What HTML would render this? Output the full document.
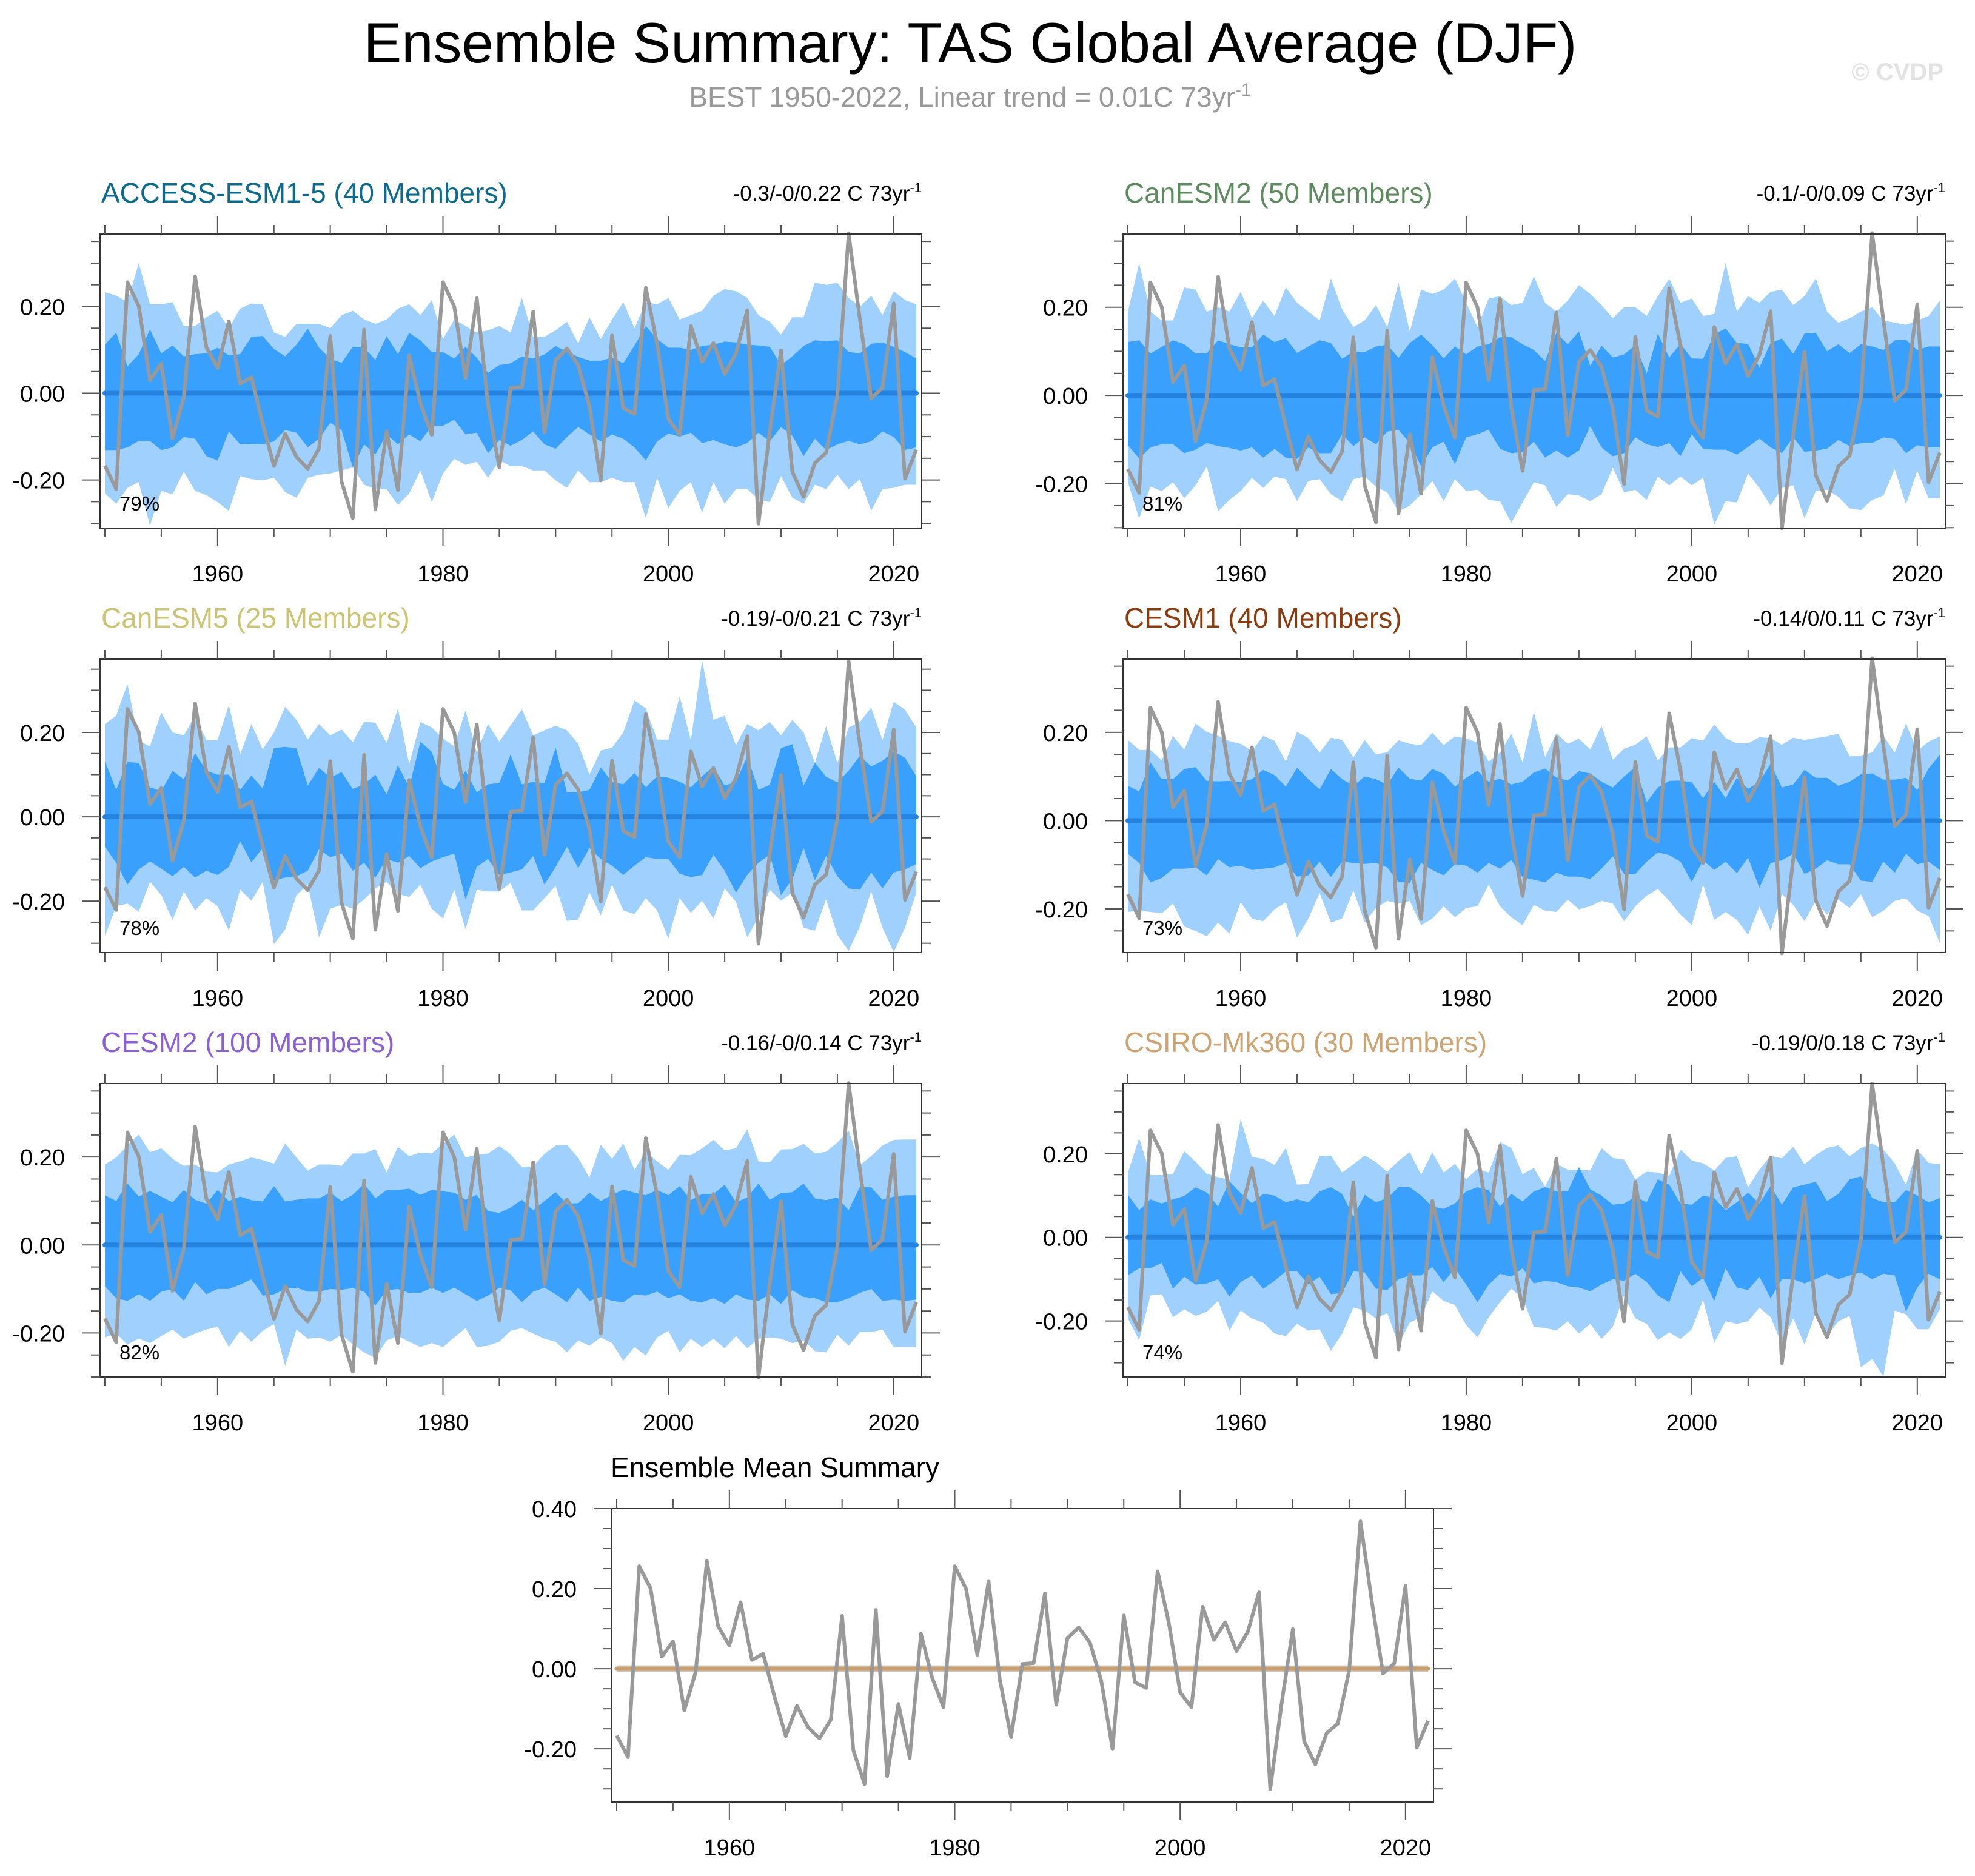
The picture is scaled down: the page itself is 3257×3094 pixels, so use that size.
<!DOCTYPE html>
<html><head><meta charset="utf-8"><title>Ensemble Summary: TAS Global Average (DJF)</title>
<style>html,body{margin:0;padding:0;background:#fff}svg{display:block}text{font-family:"Liberation Sans",Arial,sans-serif}</style>
</head><body>
<svg id="chart" xmlns="http://www.w3.org/2000/svg" width="3257" height="3094" viewBox="0 0 3257 3094">
<rect width="3257" height="3094" fill="#fff"/>
<text x="1600" y="103" font-size="94" text-anchor="middle" fill="#000">Ensemble Summary: TAS Global Average (DJF)</text>
<text x="1600" y="176" font-size="46" text-anchor="middle" fill="#999">BEST 1950-2022, Linear trend = 0.01C 73yr<tspan font-size="30" dy="-18">-1</tspan></text>
<text x="3205" y="132" font-size="40" font-weight="bold" text-anchor="end" fill="#e2e2e2">© CVDP</text>
<g id="panels"></g>
</svg>
<script>
const years = [];
for (let y = 1950; y <= 2022; y++) years.push(y);
const obs = [-0.167,-0.221,0.256,0.201,0.030,0.068,-0.104,-0.009,0.269,0.106,0.058,0.166,0.022,0.037,-0.07,-0.168,-0.093,-0.147,-0.174,-0.127,0.132,-0.204,-0.288,0.147,-0.268,-0.088,-0.223,0.087,-0.023,-0.096,0.256,0.200,0.035,0.219,-0.027,-0.171,0.012,0.014,0.188,-0.090,0.076,0.103,0.065,-0.030,-0.201,0.133,-0.034,-0.048,0.243,0.114,-0.059,-0.096,0.155,0.072,0.116,0.044,0.092,0.191,-0.301,-0.088,0.099,-0.181,-0.239,-0.161,-0.137,-0.005,0.368,0.17,-0.012,0.013,0.207,-0.197,-0.130];
const ensMean = [0,0,0,0,0,0,0,0,0,0,0,0,0,0,0,0,0,0,0,0,0,0,0,0,0,0,0,0,0,0,0,0,0,0,0,0,0,0,0,0,0,0,0,0,0,0,0,0,0,0,0,0,0,0,0,0,0,0,0,0,0,0,0,0,0,0,0,0,0,0,0,0,0];
const xTickLabels = [1960, 1980, 2000, 2020];
const yTickLabels = [-0.2, 0.0, 0.2];
const yTickLabelsMean = [-0.2, 0.0, 0.2, 0.4];

const p1Hi2 = [0.233,0.225,0.21,0.30,0.205,0.205,0.21,0.155,0.155,0.175,0.19,0.15,0.195,0.207,0.205,0.14,0.13,0.16,0.16,0.16,0.15,0.18,0.19,0.17,0.16,0.17,0.195,0.205,0.18,0.215,0.125,0.17,0.155,0.14,0.145,0.155,0.14,0.22,0.13,0.13,0.145,0.165,0.115,0.175,0.125,0.17,0.21,0.15,0.21,0.205,0.22,0.17,0.18,0.19,0.225,0.24,0.235,0.22,0.18,0.165,0.135,0.175,0.175,0.255,0.25,0.255,0.22,0.2,0.225,0.18,0.235,0.215,0.205];
const p1Hi1 = [0.112,0.14,0.062,0.09,0.147,0.092,0.11,0.085,0.09,0.092,0.105,0.087,0.09,0.13,0.132,0.102,0.085,0.112,0.149,0.105,0.079,0.07,0.107,0.105,0.077,0.132,0.09,0.139,0.122,0.095,0.095,0.08,0.107,0.082,0.047,0.065,0.069,0.085,0.08,0.089,0.109,0.095,0.084,0.075,0.075,0.082,0.069,0.11,0.155,0.125,0.105,0.105,0.1,0.109,0.112,0.119,0.117,0.112,0.11,0.107,0.065,0.085,0.109,0.122,0.12,0.122,0.095,0.092,0.114,0.117,0.107,0.095,0.08];
const p1Lo1 = [-0.131,-0.131,-0.125,-0.11,-0.11,-0.131,-0.125,-0.101,-0.105,-0.145,-0.155,-0.088,-0.118,-0.117,-0.118,-0.111,-0.085,-0.091,-0.125,-0.105,-0.068,-0.085,-0.171,-0.118,-0.141,-0.095,-0.118,-0.095,-0.111,-0.075,-0.075,-0.061,-0.095,-0.091,-0.138,-0.108,-0.121,-0.108,-0.088,-0.118,-0.128,-0.101,-0.078,-0.095,-0.111,-0.095,-0.105,-0.125,-0.155,-0.111,-0.093,-0.1,-0.091,-0.115,-0.108,-0.118,-0.125,-0.115,-0.091,-0.111,-0.078,-0.098,-0.145,-0.105,-0.131,-0.118,-0.11,-0.118,-0.111,-0.088,-0.101,-0.131,-0.125];
const p1Lo2 = [-0.231,-0.255,-0.218,-0.205,-0.305,-0.225,-0.233,-0.181,-0.225,-0.235,-0.251,-0.271,-0.191,-0.198,-0.201,-0.195,-0.228,-0.241,-0.195,-0.188,-0.185,-0.178,-0.171,-0.211,-0.221,-0.221,-0.258,-0.231,-0.178,-0.251,-0.185,-0.151,-0.165,-0.158,-0.195,-0.155,-0.168,-0.168,-0.178,-0.178,-0.201,-0.218,-0.178,-0.205,-0.205,-0.195,-0.205,-0.205,-0.288,-0.195,-0.265,-0.225,-0.205,-0.275,-0.205,-0.255,-0.221,-0.221,-0.245,-0.251,-0.191,-0.241,-0.255,-0.211,-0.221,-0.188,-0.221,-0.198,-0.271,-0.221,-0.218,-0.211,-0.211];

const p2Hi2 = [0.19,0.30,0.19,0.17,0.17,0.245,0.24,0.19,0.20,0.19,0.235,0.175,0.215,0.18,0.245,0.21,0.19,0.17,0.265,0.195,0.155,0.17,0.205,0.155,0.255,0.145,0.24,0.23,0.24,0.265,0.21,0.155,0.22,0.225,0.205,0.21,0.27,0.21,0.19,0.215,0.25,0.23,0.205,0.175,0.2,0.2,0.18,0.225,0.265,0.21,0.22,0.18,0.185,0.30,0.19,0.225,0.21,0.235,0.24,0.205,0.225,0.265,0.19,0.165,0.175,0.19,0.2,0.17,0.165,0.16,0.17,0.18,0.215];
const p2Hi1 = [0.121,0.125,0.095,0.11,0.125,0.116,0.095,0.096,0.125,0.116,0.109,0.109,0.138,0.121,0.13,0.096,0.111,0.125,0.119,0.083,0.1,0.098,0.111,0.115,0.085,0.119,0.138,0.114,0.084,0.111,0.093,0.111,0.116,0.132,0.132,0.116,0.103,0.078,0.142,0.116,0.145,0.067,0.113,0.086,0.093,0.114,0.05,0.14,0.086,0.117,0.084,0.083,0.139,0.152,0.119,0.117,0.063,0.119,0.129,0.094,0.14,0.142,0.1,0.116,0.096,0.116,0.111,0.103,0.125,0.126,0.103,0.111,0.111];
const p2Lo1 = [-0.113,-0.143,-0.118,-0.111,-0.111,-0.131,-0.123,-0.108,-0.115,-0.119,-0.125,-0.118,-0.141,-0.121,-0.141,-0.144,-0.118,-0.131,-0.131,-0.088,-0.115,-0.095,-0.111,-0.082,-0.078,-0.108,-0.161,-0.118,-0.105,-0.156,-0.095,-0.088,-0.078,-0.121,-0.131,-0.128,-0.105,-0.141,-0.125,-0.141,-0.125,-0.07,-0.118,-0.138,-0.131,-0.095,-0.111,-0.117,-0.108,-0.138,-0.088,-0.121,-0.123,-0.123,-0.134,-0.117,-0.098,-0.118,-0.131,-0.095,-0.128,-0.125,-0.121,-0.101,-0.115,-0.108,-0.108,-0.095,-0.099,-0.131,-0.113,-0.118,-0.118];
const p2Lo2 = [-0.197,-0.279,-0.207,-0.217,-0.197,-0.233,-0.204,-0.161,-0.263,-0.237,-0.217,-0.187,-0.21,-0.184,-0.19,-0.24,-0.194,-0.19,-0.224,-0.24,-0.19,-0.184,-0.207,-0.22,-0.263,-0.25,-0.224,-0.194,-0.24,-0.19,-0.217,-0.214,-0.237,-0.24,-0.289,-0.243,-0.197,-0.204,-0.253,-0.224,-0.227,-0.24,-0.224,-0.164,-0.22,-0.214,-0.237,-0.184,-0.204,-0.184,-0.204,-0.187,-0.293,-0.24,-0.243,-0.177,-0.21,-0.25,-0.21,-0.204,-0.279,-0.217,-0.214,-0.23,-0.256,-0.26,-0.237,-0.227,-0.167,-0.247,-0.171,-0.233,-0.233];

const p3Hi2 = [0.22,0.24,0.315,0.18,0.167,0.247,0.2,0.193,0.24,0.182,0.182,0.265,0.148,0.22,0.16,0.2,0.261,0.23,0.183,0.22,0.193,0.207,0.177,0.226,0.223,0.175,0.257,0.125,0.225,0.212,0.186,0.167,0.252,0.152,0.22,0.178,0.217,0.255,0.193,0.205,0.216,0.205,0.173,0.1,0.157,0.164,0.2,0.276,0.257,0.183,0.183,0.286,0.181,0.371,0.23,0.24,0.17,0.22,0.205,0.225,0.193,0.23,0.2,0.128,0.215,0.128,0.212,0.225,0.259,0.182,0.273,0.254,0.212];
const p3Hi1 = [0.132,0.064,0.13,0.128,0.07,0.061,0.109,0.089,0.151,0.109,0.1,0.1,0.064,0.098,0.067,0.163,0.166,0.162,0.074,0.116,0.093,0.106,0.066,0.077,0.1,0.053,0.122,0.07,0.178,0.154,0.078,0.064,0.109,0.058,0.077,0.08,0.148,0.077,0.083,0.08,0.164,0.058,0.058,0.064,0.117,0.083,0.077,0.104,0.07,0.096,0.093,0.083,0.07,0.096,0.119,0.074,0.083,0.143,0.064,0.076,0.163,0.172,0.074,0.128,0.095,0.082,0.109,0.145,0.119,0.133,0.155,0.14,0.096];
const p3Lo1 = [-0.071,-0.109,-0.161,-0.125,-0.106,-0.123,-0.141,-0.119,-0.144,-0.128,-0.138,-0.119,-0.058,-0.108,-0.074,-0.151,-0.144,-0.141,-0.128,-0.077,-0.096,-0.087,-0.128,-0.109,-0.144,-0.1,-0.109,-0.093,-0.122,-0.106,-0.096,-0.087,-0.196,-0.119,-0.1,-0.138,-0.132,-0.125,-0.093,-0.161,-0.119,-0.071,-0.122,-0.074,-0.1,-0.116,-0.138,-0.116,-0.096,-0.1,-0.1,-0.135,-0.143,-0.138,-0.09,-0.128,-0.18,-0.138,-0.109,-0.09,-0.186,-0.148,-0.074,-0.151,-0.093,-0.141,-0.17,-0.173,-0.132,-0.17,-0.132,-0.125,-0.112];
const p3Lo2 = [-0.283,-0.212,-0.206,-0.225,-0.154,-0.186,-0.244,-0.177,-0.222,-0.193,-0.212,-0.27,-0.173,-0.199,-0.154,-0.302,-0.267,-0.186,-0.161,-0.286,-0.218,-0.209,-0.218,-0.196,-0.17,-0.154,-0.183,-0.19,-0.161,-0.218,-0.241,-0.173,-0.267,-0.173,-0.177,-0.177,-0.157,-0.222,-0.222,-0.193,-0.164,-0.247,-0.244,-0.18,-0.234,-0.161,-0.222,-0.231,-0.193,-0.222,-0.289,-0.193,-0.228,-0.199,-0.241,-0.17,-0.202,-0.286,-0.238,-0.173,-0.199,-0.18,-0.263,-0.27,-0.196,-0.28,-0.318,-0.26,-0.177,-0.263,-0.321,-0.263,-0.18];

const p4Hi2 = [0.183,0.16,0.16,0.137,0.192,0.161,0.22,0.201,0.192,0.18,0.174,0.158,0.192,0.181,0.134,0.201,0.187,0.154,0.188,0.183,0.143,0.183,0.15,0.155,0.182,0.174,0.171,0.199,0.171,0.191,0.186,0.177,0.134,0.154,0.197,0.132,0.247,0.144,0.198,0.174,0.186,0.161,0.215,0.138,0.163,0.172,0.191,0.136,0.166,0.166,0.187,0.181,0.218,0.187,0.175,0.175,0.189,0.187,0.172,0.188,0.183,0.187,0.191,0.197,0.146,0.146,0.155,0.192,0.154,0.22,0.158,0.179,0.191];
const p4Hi1 = [0.079,0.066,0.132,0.094,0.094,0.117,0.121,0.09,0.089,0.09,0.087,0.094,0.115,0.103,0.077,0.12,0.094,0.071,0.117,0.094,0.079,0.1,0.094,0.082,0.12,0.095,0.091,0.117,0.106,0.077,0.097,0.113,0.088,0.095,0.082,0.088,0.109,0.118,0.098,0.091,0.112,0.107,0.088,0.075,0.1,0.121,0.042,0.075,0.09,0.091,0.087,0.051,0.088,0.051,0.097,0.072,0.088,0.129,0.075,0.082,0.115,0.097,0.097,0.079,0.088,0.105,0.107,0.093,0.093,0.097,0.069,0.118,0.149];
const p4Lo1 = [-0.075,-0.096,-0.14,-0.13,-0.109,-0.109,-0.106,-0.124,-0.087,-0.106,-0.102,-0.112,-0.109,-0.106,-0.096,-0.127,-0.124,-0.093,-0.128,-0.093,-0.096,-0.098,-0.096,-0.106,-0.139,-0.141,-0.096,-0.112,-0.124,-0.099,-0.102,-0.118,-0.096,-0.109,-0.089,-0.128,-0.134,-0.14,-0.118,-0.127,-0.127,-0.132,-0.109,-0.081,-0.121,-0.121,-0.093,-0.072,-0.078,-0.093,-0.139,-0.09,-0.112,-0.093,-0.119,-0.084,-0.152,-0.096,-0.09,-0.075,-0.121,-0.109,-0.09,-0.099,-0.099,-0.136,-0.139,-0.093,-0.118,-0.075,-0.099,-0.093,-0.112];
const p4Lo2 = [-0.207,-0.204,-0.207,-0.21,-0.188,-0.24,-0.25,-0.262,-0.231,-0.256,-0.185,-0.222,-0.228,-0.201,-0.185,-0.265,-0.222,-0.164,-0.231,-0.222,-0.158,-0.231,-0.198,-0.182,-0.188,-0.182,-0.237,-0.222,-0.194,-0.219,-0.198,-0.194,-0.145,-0.194,-0.219,-0.237,-0.191,-0.204,-0.207,-0.179,-0.201,-0.194,-0.182,-0.188,-0.228,-0.194,-0.17,-0.155,-0.182,-0.213,-0.237,-0.145,-0.225,-0.207,-0.225,-0.259,-0.194,-0.25,-0.167,-0.191,-0.228,-0.182,-0.213,-0.179,-0.198,-0.167,-0.219,-0.204,-0.182,-0.176,-0.204,-0.216,-0.277];

const p5Hi2 = [0.183,0.199,0.226,0.251,0.211,0.22,0.196,0.18,0.183,0.167,0.165,0.183,0.19,0.199,0.193,0.185,0.231,0.199,0.169,0.183,0.183,0.18,0.208,0.208,0.218,0.165,0.223,0.202,0.21,0.208,0.23,0.251,0.199,0.205,0.208,0.225,0.206,0.177,0.179,0.207,0.226,0.228,0.198,0.153,0.228,0.196,0.231,0.171,0.212,0.19,0.171,0.205,0.204,0.22,0.239,0.215,0.22,0.263,0.19,0.188,0.217,0.218,0.23,0.208,0.212,0.233,0.26,0.182,0.202,0.226,0.239,0.24,0.24];
const p5Hi1 = [0.113,0.1,0.14,0.11,0.123,0.11,0.097,0.125,0.103,0.094,0.125,0.1,0.11,0.102,0.099,0.134,0.099,0.103,0.106,0.106,0.119,0.1,0.114,0.139,0.106,0.125,0.125,0.128,0.114,0.125,0.122,0.119,0.103,0.114,0.077,0.073,0.085,0.103,0.079,0.1,0.12,0.094,0.095,0.119,0.1,0.114,0.126,0.119,0.113,0.125,0.113,0.134,0.102,0.116,0.116,0.137,0.097,0.108,0.14,0.103,0.118,0.12,0.14,0.106,0.102,0.108,0.079,0.132,0.131,0.103,0.11,0.113,0.113];
const p5Lo1 = [-0.094,-0.121,-0.127,-0.112,-0.127,-0.106,-0.1,-0.127,-0.084,-0.112,-0.1,-0.1,-0.09,-0.078,-0.115,-0.112,-0.1,-0.097,-0.106,-0.106,-0.1,-0.102,-0.098,-0.106,-0.137,-0.103,-0.1,-0.109,-0.109,-0.097,-0.109,-0.097,-0.112,-0.127,-0.115,-0.097,-0.103,-0.13,-0.106,-0.097,-0.112,-0.13,-0.097,-0.127,-0.118,-0.127,-0.13,-0.112,-0.115,-0.106,-0.121,-0.112,-0.127,-0.13,-0.121,-0.134,-0.112,-0.124,-0.127,-0.112,-0.134,-0.103,-0.118,-0.121,-0.13,-0.13,-0.121,-0.109,-0.1,-0.127,-0.124,-0.127,-0.124];
const p5Lo2 = [-0.21,-0.201,-0.226,-0.213,-0.223,-0.207,-0.192,-0.213,-0.201,-0.192,-0.186,-0.232,-0.195,-0.22,-0.195,-0.18,-0.275,-0.192,-0.213,-0.21,-0.22,-0.204,-0.226,-0.244,-0.257,-0.217,-0.207,-0.22,-0.232,-0.223,-0.232,-0.21,-0.189,-0.232,-0.229,-0.22,-0.195,-0.189,-0.201,-0.213,-0.22,-0.244,-0.217,-0.229,-0.21,-0.223,-0.263,-0.232,-0.251,-0.21,-0.195,-0.244,-0.213,-0.232,-0.213,-0.235,-0.207,-0.235,-0.213,-0.21,-0.213,-0.223,-0.217,-0.241,-0.244,-0.204,-0.229,-0.198,-0.198,-0.192,-0.232,-0.232,-0.232];

const p6Hi2 = [0.155,0.238,0.149,0.149,0.152,0.206,0.181,0.152,0.144,0.138,0.283,0.192,0.188,0.173,0.214,0.126,0.128,0.194,0.196,0.155,0.175,0.196,0.18,0.157,0.183,0.204,0.15,0.203,0.155,0.176,0.139,0.164,0.155,0.228,0.214,0.151,0.166,0.121,0.176,0.162,0.162,0.16,0.214,0.19,0.186,0.139,0.157,0.155,0.147,0.21,0.184,0.177,0.16,0.19,0.194,0.12,0.162,0.195,0.189,0.217,0.175,0.197,0.214,0.22,0.194,0.214,0.225,0.21,0.177,0.126,0.21,0.178,0.175];
const p6Hi1 = [0.102,0.065,0.091,0.081,0.091,0.099,0.12,0.107,0.074,0.134,0.106,0.082,0.104,0.1,0.084,0.091,0.084,0.11,0.12,0.104,0.049,0.102,0.084,0.094,0.12,0.12,0.1,0.074,0.068,0.081,0.11,0.12,0.113,0.074,0.104,0.086,0.11,0.12,0.11,0.11,0.168,0.115,0.1,0.078,0.081,0.097,0.084,0.139,0.126,0.081,0.078,0.1,0.094,0.065,0.084,0.107,0.081,0.123,0.078,0.12,0.126,0.133,0.087,0.104,0.139,0.146,0.094,0.084,0.084,0.113,0.1,0.084,0.094];
const p6Lo1 = [-0.091,-0.074,-0.074,-0.061,-0.123,-0.094,-0.113,-0.11,-0.1,-0.142,-0.107,-0.091,-0.123,-0.104,-0.081,-0.081,-0.113,-0.094,-0.136,-0.133,-0.081,-0.084,-0.123,-0.126,-0.1,-0.091,-0.091,-0.071,-0.107,-0.074,-0.113,-0.155,-0.113,-0.087,-0.094,-0.074,-0.11,-0.104,-0.107,-0.117,-0.12,-0.129,-0.113,-0.1,-0.104,-0.087,-0.107,-0.139,-0.155,-0.081,-0.117,-0.097,-0.152,-0.074,-0.12,-0.126,-0.094,-0.146,-0.1,-0.1,-0.11,-0.1,-0.087,-0.1,-0.091,-0.084,-0.1,-0.087,-0.091,-0.178,-0.12,-0.087,-0.1];
const p6Lo2 = [-0.194,-0.246,-0.139,-0.136,-0.191,-0.172,-0.188,-0.178,-0.152,-0.223,-0.175,-0.194,-0.204,-0.23,-0.236,-0.207,-0.223,-0.22,-0.272,-0.23,-0.168,-0.175,-0.194,-0.181,-0.256,-0.204,-0.191,-0.129,-0.152,-0.162,-0.21,-0.239,-0.191,-0.155,-0.123,-0.146,-0.214,-0.217,-0.223,-0.201,-0.23,-0.207,-0.243,-0.214,-0.139,-0.194,-0.207,-0.246,-0.227,-0.243,-0.22,-0.149,-0.252,-0.201,-0.207,-0.201,-0.168,-0.191,-0.256,-0.194,-0.256,-0.181,-0.236,-0.201,-0.188,-0.311,-0.291,-0.333,-0.175,-0.184,-0.22,-0.22,-0.172];

const NS = 'http://www.w3.org/2000/svg';
const root = document.getElementById('panels');
function mk(tag, attrs, parent) {
  const e = document.createElementNS(NS, tag);
  for (const k in attrs) e.setAttribute(k, attrs[k]);
  (parent || root).appendChild(e);
  return e;
}
const panels = [
  {id:'access-esm1-5', title:'ACCESS-ESM1-5 (40 Members)', color:'#0d6a8c', trend:'-0.3/-0/0.22 C 73yr', pct:'79%', x0:165, x1:1520, y0:386, y1:871, ymin:-0.311, ymax:0.367, hi2:p1Hi2, hi1:p1Hi1, lo1:p1Lo1, lo2:p1Lo2},
  {id:'canesm2', title:'CanESM2 (50 Members)', color:'#5e8a60', trend:'-0.1/-0/0.09 C 73yr', pct:'81%', x0:1852, x1:3208, y0:386, y1:871, ymin:-0.301, ymax:0.366, hi2:p2Hi2, hi1:p2Hi1, lo1:p2Lo1, lo2:p2Lo2},
  {id:'canesm5', title:'CanESM5 (25 Members)', color:'#cbc474', trend:'-0.19/-0/0.21 C 73yr', pct:'78%', x0:165, x1:1520, y0:1087, y1:1571, ymin:-0.322, ymax:0.374, hi2:p3Hi2, hi1:p3Hi1, lo1:p3Lo1, lo2:p3Lo2},
  {id:'cesm1', title:'CESM1 (40 Members)', color:'#8b3c0e', trend:'-0.14/0/0.11 C 73yr', pct:'73%', x0:1852, x1:3208, y0:1087, y1:1571, ymin:-0.299, ymax:0.366, hi2:p4Hi2, hi1:p4Hi1, lo1:p4Lo1, lo2:p4Lo2},
  {id:'cesm2', title:'CESM2 (100 Members)', color:'#8a60d2', trend:'-0.16/-0/0.14 C 73yr', pct:'82%', x0:165, x1:1520, y0:1787, y1:2271, ymin:-0.300, ymax:0.367, hi2:p5Hi2, hi1:p5Hi1, lo1:p5Lo1, lo2:p5Lo2},
  {id:'csiro-mk360', title:'CSIRO-Mk360 (30 Members)', color:'#cca474', trend:'-0.19/0/0.18 C 73yr', pct:'74%', x0:1852, x1:3208, y0:1787, y1:2271, ymin:-0.334, ymax:0.368, hi2:p6Hi2, hi1:p6Hi1, lo1:p6Lo1, lo2:p6Lo2},
  {id:'ensemble-mean', title:'Ensemble Mean Summary', color:'#000', trend:null, pct:null, x0:1009, x1:2364, y0:2488, y1:2972, ymin:-0.333, ymax:0.40, mean:true}
];

function axes(p) {
  const X = yr => p.x0 + 8 + (yr - 1950) * (p.x1 - p.x0 - 17) / 72;
  const Y = v => p.y0 + (p.ymax - v) * (p.y1 - p.y0) / (p.ymax - p.ymin);
  return {X, Y};
}

panels.forEach((p, idx) => {
  const g = mk('g', {});
  
  
  const {X, Y} = axes(p);
  const clipId = 'clip' + idx;
  const cp = mk('clipPath', {id: clipId}, g);
  mk('rect', {x:p.x0, y:p.y0, width:p.x1-p.x0, height:p.y1-p.y0}, cp);
  const plot = mk('g', {'clip-path':'url(#'+clipId+')'}, g);
  if (!p.mean) {
    const band = (top, bot) => {
      let d = 'M' + years.map((yr,i) => X(yr).toFixed(1)+','+Y(top[i]).toFixed(1)).join('L');
      for (let i = years.length - 1; i >= 0; i--) d += 'L' + X(years[i]).toFixed(1) + ',' + Y(bot[i]).toFixed(1);
      return d + 'Z';
    };
    const outer = mk('path', {d: band(p.hi2, p.lo2), fill:'#a0d0fd'}, plot);
    
    
    const inner = mk('path', {d: band(p.hi1, p.lo1), fill:'#3aa0fe'}, plot);
    
    
  }
  const meanD = 'M' + years.map((yr,i) => X(yr).toFixed(1)+','+Y(ensMean[i]).toFixed(1)).join('L');
  if (p.mean) {
    mk('path', {d: meanD, fill:'none', stroke:'#c8c8c8', 'stroke-width':11}, plot);
  }
  const ml = mk('path', {d: meanD, fill:'none', stroke: p.mean ? '#c89e6e' : '#2583df', 'stroke-width': p.mean ? 7 : 8, 'stroke-linecap':'round'}, plot);
  
  
  const ol = mk('path', {d: 'M' + years.map((yr,i) => X(yr).toFixed(1)+','+Y(obs[i]).toFixed(1)).join('L'), fill:'none', stroke:'#999', 'stroke-width':6, 'stroke-linejoin':'round'}, g);
  
  
  const fr = mk('rect', {x:p.x0, y:p.y0, width:p.x1-p.x0, height:p.y1-p.y0, fill:'none', stroke:'#333', 'stroke-width':2}, g);
  
  
  for (let yr = 1950; yr <= 2022; yr += 5) {
    const major = (yr % 20 === 0);
    const L = major ? 30 : 15;
    const x = X(yr);
    mk('line', {x1:x, x2:x, y1:p.y0, y2:p.y0 - L, stroke:'#555', 'stroke-width':2}, g);
    mk('line', {x1:x, x2:x, y1:p.y1, y2:p.y1 + L, stroke:'#555', 'stroke-width':2}, g);
  }
  xTickLabels.forEach(yr => {
    const t = mk('text', {x:X(yr), y:p.y1 + 88, 'font-size':38, 'text-anchor':'middle', fill:'#000'}, g);
    
    
    t.textContent = yr;
  });
  const lo = Math.ceil(p.ymin / 0.05 - 1e-6), hi = Math.floor(p.ymax / 0.05 + 1e-6);
  for (let k = lo; k <= hi; k++) {
    const v = k * 0.05, y = Y(v);
    const major = (k % 4 === 0);
    const L = major ? 30 : 15;
    mk('line', {x1:p.x0, x2:p.x0 - L, y1:y, y2:y, stroke:'#555', 'stroke-width':2}, g);
    mk('line', {x1:p.x1, x2:p.x1 + L, y1:y, y2:y, stroke:'#555', 'stroke-width':2}, g);
  }
  (p.mean ? yTickLabelsMean : yTickLabels).forEach(v => {
    const t = mk('text', {x:p.x0 - 58, y:Y(v) + 14, 'font-size':38, 'text-anchor':'end', fill:'#000'}, g);
    
    
    t.textContent = v.toFixed(2);
  });
  const tt = mk('text', {x:p.mean ? p.x0 - 2 : p.x0 + 2, y:p.y0 - 52, 'font-size':46, fill:p.color}, g);
  
  
  tt.textContent = p.title;
  if (p.trend) {
    const tr = mk('text', {x:p.x1, y:p.y0 - 55, 'font-size':35, 'text-anchor':'end', fill:'#000'}, g);
    
    
    tr.appendChild(document.createTextNode(p.trend));
    const sup = mk('tspan', {'font-size':22, dy:-14}, tr);
    sup.textContent = '-1';
    const pc = mk('text', {x:p.x0 + 32, y:p.y1 - 29, 'font-size':33, fill:'#000'}, g);
    
    
    pc.textContent = p.pct;
  }
});
</script>
</body></html>
